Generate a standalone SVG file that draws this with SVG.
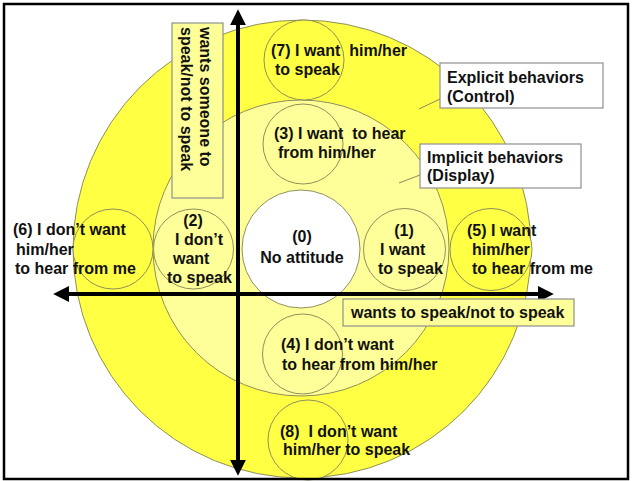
<svg xmlns="http://www.w3.org/2000/svg" width="632" height="481" viewBox="0 0 632 481">
<defs>
<style>
.t{font-family:"Liberation Sans",Arial,sans-serif;font-weight:bold;font-size:16px;fill:#111}
.c{text-anchor:middle}
.sc{stroke:#8f8f5a;stroke-width:1}
.box{stroke:#909090;stroke-width:1.2}
.ax{stroke:#000;stroke-width:4;fill:none}
.lead{stroke:#8a8a5a;stroke-width:1;fill:none}
</style>
<marker id="ah" viewBox="0 0 10 10" refX="2" refY="5" markerWidth="4" markerHeight="4" orient="auto" markerUnits="strokeWidth">
<path d="M0,0 L10,5 L0,10 z" fill="#000"/>
</marker>
</defs>
<rect x="0" y="0" width="632" height="481" fill="#fff"/>
<g id="rings">
<circle id="outer" cx="302" cy="249" r="229" fill="#FFFF44" class="sc"/>
<circle id="middle" cx="301" cy="248" r="148" fill="#FFFF99" class="sc"/>
</g>
<g id="n0"><circle cx="301" cy="249" r="59" fill="#fff" class="sc"/>
<text class="t c" x="302" y="242">(0)</text><text class="t c" x="302" y="263">No attitude</text></g>
<g id="n7"><circle cx="304" cy="60" r="40" fill="#FFFF44" class="sc"/>
<text class="t" x="271" y="56" xml:space="preserve">(7) I want  him/her</text><text class="t" x="275" y="75">to speak</text></g>
<g id="n3"><circle cx="303" cy="144" r="40" fill="#FFFF99" class="sc"/>
<text class="t" x="274" y="139" xml:space="preserve">(3) I want  to hear</text><text class="t" x="278" y="158">from him/her</text></g>
<g id="n6"><circle cx="113" cy="249" r="40" fill="#FFFF44" class="sc"/>
<text class="t" x="13" y="235">(6) I don’t want</text><text class="t" x="16" y="255">him/her</text><text class="t" x="15" y="274">to hear from me</text></g>
<g id="n2"><circle cx="193.5" cy="249" r="40" fill="#FFFF99" class="sc"/>
<text class="t c" x="193" y="226">(2)</text><text class="t" x="175" y="245">I don’t</text><text class="t" x="173" y="264">want</text><text class="t" x="167" y="283">to speak</text></g>
<g id="n1"><circle cx="404.5" cy="249.5" r="41" fill="#FFFF99" class="sc"/>
<text class="t c" x="404" y="236">(1)</text><text class="t" x="380" y="255">I want</text><text class="t" x="378" y="274">to speak</text></g>
<g id="n5"><circle cx="491" cy="249.5" r="41" fill="#FFFF44" class="sc"/>
<text class="t" x="467" y="236">(5) I want</text><text class="t" x="472" y="255">him/her</text><text class="t" x="472" y="274">to hear from me</text></g>
<g id="n4"><circle cx="302.5" cy="354" r="40" fill="#FFFF99" class="sc"/>
<text class="t" x="281" y="350">(4) I don’t want</text><text class="t" x="282" y="370">to hear from him/her</text></g>
<g id="n8"><circle cx="308" cy="440" r="40" fill="#FFFF44" class="sc"/>
<text class="t" x="280" y="437" xml:space="preserve">(8)  I don’t want</text><text class="t" x="283" y="455">him/her to speak</text></g>
<g id="lblExplicit"><rect x="440" y="63" width="163" height="45" fill="#fff" class="box"/>
<text class="t" x="447" y="83">Explicit behaviors</text><text class="t" x="447" y="102">(Control)</text></g>
<g id="lblImplicit"><rect x="420" y="144" width="161" height="44" fill="#fff" class="box"/>
<text class="t" x="427" y="163">Implicit behaviors</text><text class="t" x="427" y="181">(Display)</text></g>
<g id="lblVertical"><rect x="172" y="23" width="51" height="175" fill="#FFFF99" class="box"/>
<text class="t" transform="translate(200,27) rotate(90)">wants someone to</text>
<text class="t" transform="translate(181,27) rotate(90)">speak/not to speak</text></g>
<g id="connectors">
<line class="ax" x1="238" y1="470" x2="238" y2="22" marker-end="url(#ah)"/>
<line class="ax" x1="238" y1="300" x2="238" y2="463" marker-end="url(#ah)"/>
<line class="ax" x1="300" y1="294" x2="541" y2="294" marker-end="url(#ah)"/>
<line class="ax" x1="300" y1="294" x2="66" y2="294" marker-end="url(#ah)"/>
<line class="lead" x1="440" y1="99" x2="419" y2="109"/>
<line class="lead" x1="420" y1="175" x2="399" y2="183"/>
</g>
<g id="lblHorizontal"><rect x="343" y="299" width="231" height="27" fill="#FFFF99" class="box"/>
<text class="t" x="351" y="318">wants to speak/not to speak</text></g>
<rect x="4" y="4" width="624" height="475" fill="none" stroke="#000" stroke-width="2.5"/>
</svg>
